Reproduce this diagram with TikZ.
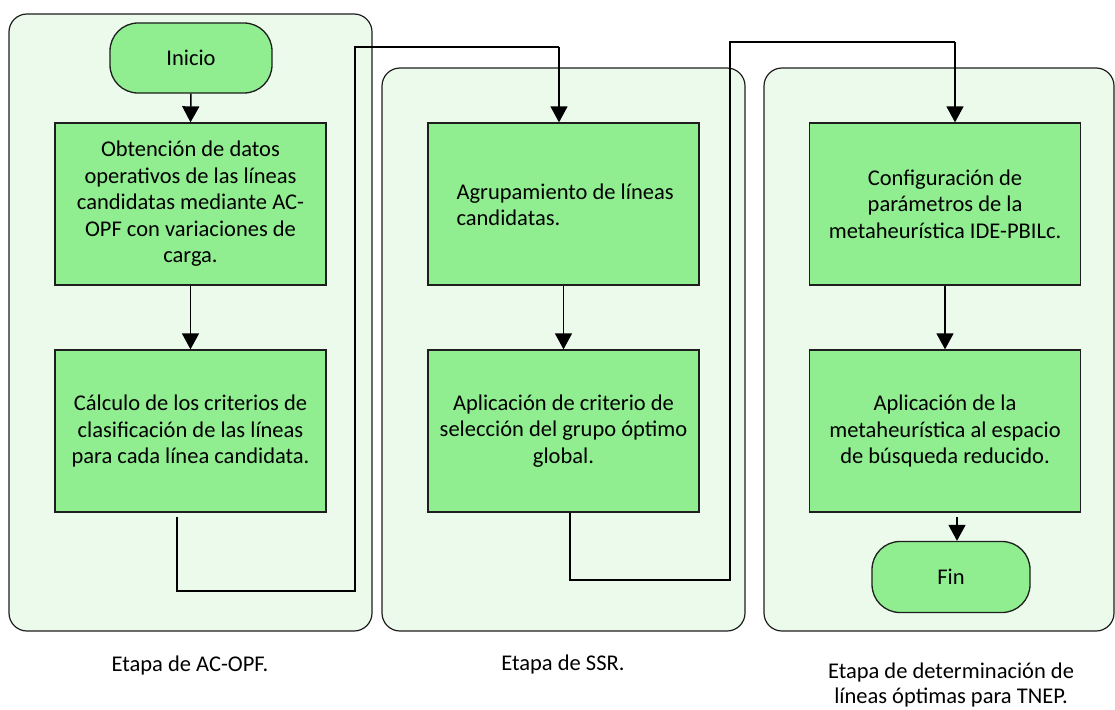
\documentclass[tikz,border=0pt]{standalone}
\usepackage{fontspec}
\setmainfont{Carlito}
\usetikzlibrary{arrows.meta}
\definecolor{boxgreen}{RGB}{144,238,144}
\definecolor{contgreen}{RGB}{236,250,236}
\definecolor{edge}{RGB}{30,30,30}
\tikzset{
  cont/.style={draw=edge,fill=contgreen,line width=1.2pt,rounded corners=18pt},
  proc/.style={draw=edge,fill=boxgreen,line width=1.3pt,minimum width=271pt,minimum height=162pt,inner sep=0pt,align=center,font=\fontsize{22.5}{26.5}\selectfont},
  term/.style={draw=edge,fill=boxgreen,line width=1.3pt,rounded corners=28pt,minimum height=70pt,inner sep=0pt,font=\fontsize{22.5}{26.5}\selectfont},
  lab/.style={align=center,font=\fontsize{22.5}{25}\selectfont},
  conn/.style={draw=black,line width=1.5pt},
  arr/.style={conn,-{Triangle[width=17pt,length=16pt]}}
}
\begin{document}
\begin{tikzpicture}[x=1pt,y=-1pt]
\useasboundingbox (0,0) rectangle (1115,709);
% containers
\draw[cont] (9,14) rectangle (372,631);
\draw[cont] (382,68) rectangle (745,631);
\draw[cont] (764,68) rectangle (1114,631);
% nodes
\node[term,minimum width=162pt] (ini) at (191,58) {Inicio};
\node[proc] (b1) at (190.5,204) {Obtención de datos\\operativos de las líneas\\candidatas mediante AC-\\OPF con variaciones de\\carga.};
\node[proc] (b2) at (190.5,431) {Cálculo de los criterios de\\clasificación de las líneas\\para cada línea candidata.};
\node[proc] (b3) at (563.5,204) {};
\node[lab,align=left,anchor=west,font=\fontsize{22.5}{26.5}\selectfont] (t3) at (453,205) {Agrupamiento de líneas\\candidatas.};
\node[proc] (b4) at (563.5,431) {Aplicación de criterio de\\selección del grupo óptimo\\global.};
\node[proc] (b5) at (945,204) {Configuración de\\parámetros de la\\metaheurística IDE-PBILc.};
\node[proc] (b6) at (945,431) {Aplicación de la\\metaheurística al espacio\\de búsqueda reducido.};
\node[term,minimum width=158pt,minimum height=71pt] (fin) at (951,577) {Fin};
% labels
\node[lab] (l1) at (190,665) {Etapa de AC-OPF.};
\node[lab] (l2) at (563,664) {Etapa de SSR.};
\node[lab] (l3) at (951,685) {Etapa de determinación de\\líneas óptimas para TNEP.};
% coordinates
\coordinate (c1) at (355,591);
\coordinate (c2) at (559,47);
\coordinate (c3) at (730,580);
\coordinate (c4) at (955,42);
% connectors
\draw[arr] (ini.south) -- (b1.north);
\draw[arr] (b1.south) -- (b2.north);
\draw[arr] (b3.south) -- (b4.north);
\draw[arr] (b5.south) -- (b6.north);
\draw[arr] ([xshift=12pt,yshift=-4pt]b6.south) -- ([xshift=6pt]fin.north);
\draw[conn] ([xshift=-13.5pt,yshift=-4pt]b2.south) |- (c1) |- (c2);
\draw[arr] (c2) -- ([xshift=-4.5pt]b3.north);
\draw[conn] ([xshift=6.5pt]b4.south) |- (c3) |- (c4);
\draw[arr] (c4) -- ([xshift=10pt]b5.north);
\end{tikzpicture}
\end{document}
